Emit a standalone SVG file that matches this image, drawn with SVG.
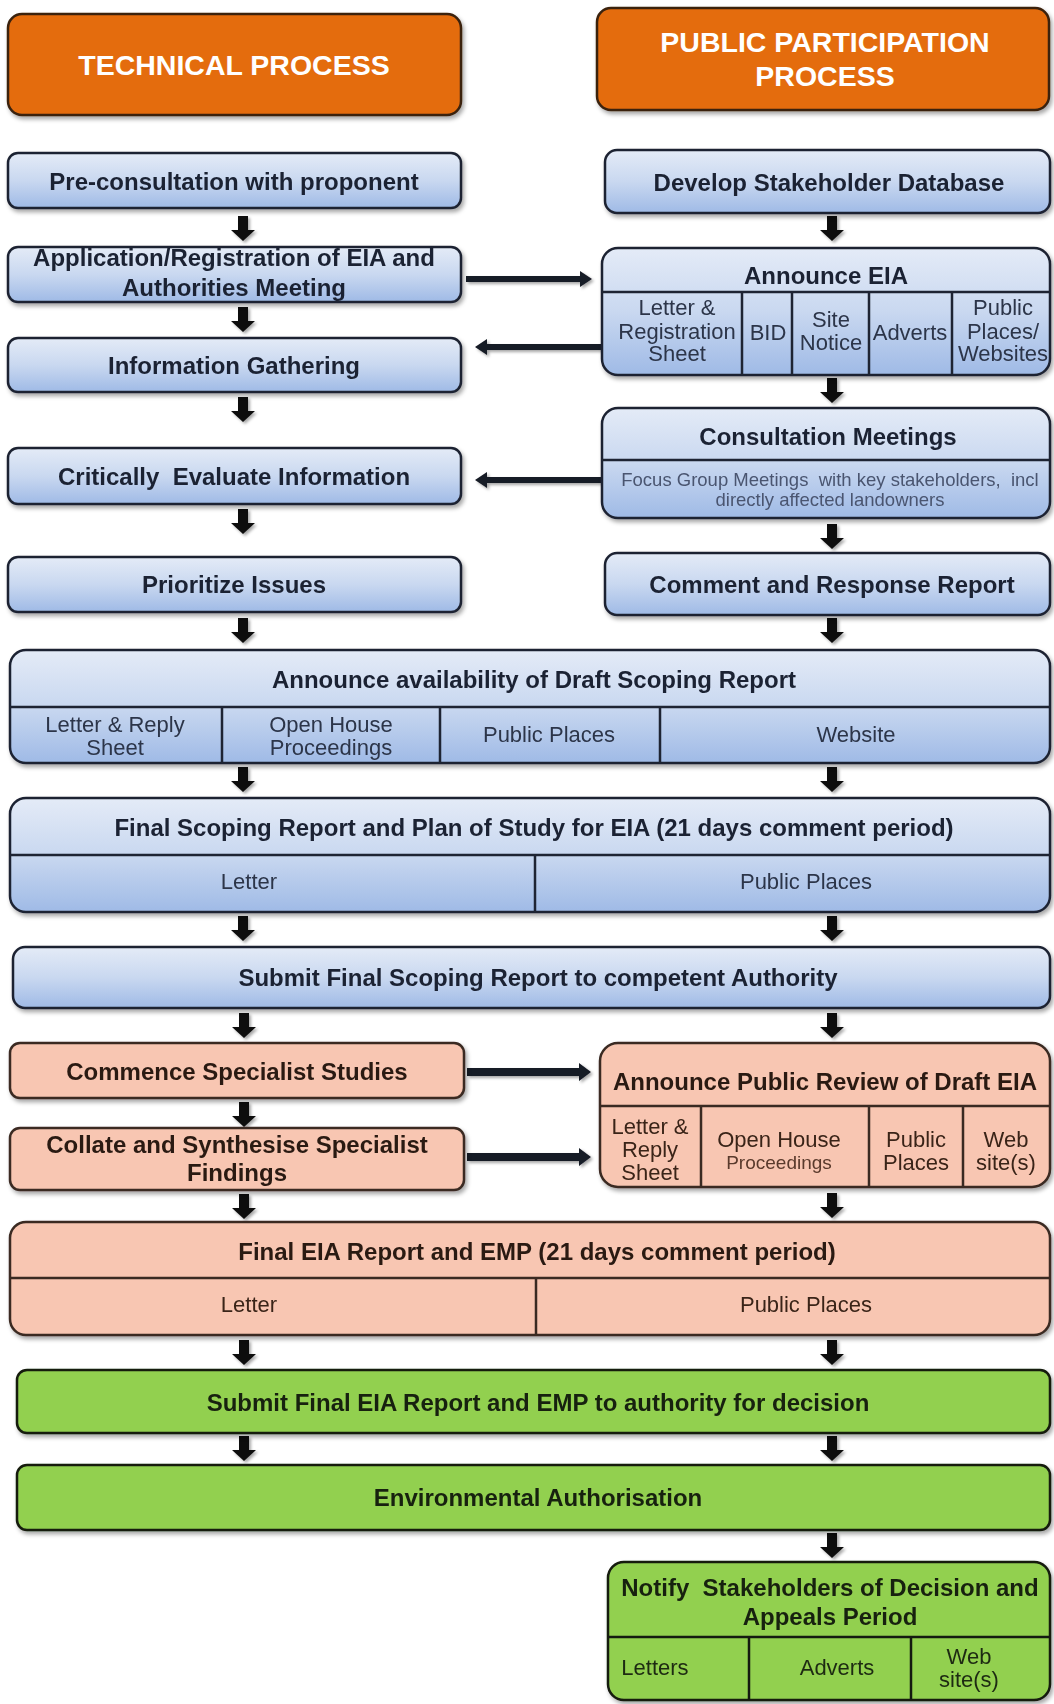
<svg xmlns="http://www.w3.org/2000/svg" xmlns:xlink="http://www.w3.org/1999/xlink" width="1054" height="1704" viewBox="0 0 1054 1704">
<style>
.box{stroke:#1e2433;stroke-width:2.5;filter:url(#sh)}
.blue{fill:url(#gBlue)}
.sal{fill:#F8C6B2;stroke:#3a2a22}
.grn{fill:#92D050;stroke:#141a10}
.org{fill:#E46C0A;stroke:#3a2210}
.div{stroke:#1e2433;stroke-width:2.5;fill:none}
.divs{stroke:#3a2a22;stroke-width:2.5;fill:none}
.divg{stroke:#141a10;stroke-width:2.5;fill:none}
text{font-family:"Liberation Sans",Arial,sans-serif;text-anchor:middle}
.h{font-size:28.5px;font-weight:bold;fill:#ffffff}
.t{font-size:24px;font-weight:bold;fill:#1b2233}
.ts{font-size:24px;font-weight:bold;fill:#2a1a12}
.tg{font-size:24px;font-weight:bold;fill:#17210f}
.c{font-size:22px;fill:#2c3549}
.cs{font-size:22px;fill:#3a2418}
.cg{font-size:22px;fill:#1d2a12}
.f{font-size:18.5px;fill:#4a5570}
.p{font-size:19px;fill:#5a3a2c}
.arr{fill:#111111;filter:url(#ash)}
.ha{fill:#151a26;filter:url(#ash)}
</style>
<defs>
<linearGradient id="gBlue" x1="0" y1="0" x2="0" y2="1">
<stop offset="0" stop-color="#e4ebf7"/>
<stop offset="0.5" stop-color="#c9d8f0"/>
<stop offset="1" stop-color="#9fbae6"/>
</linearGradient>
<filter id="sh" x="-5%" y="-10%" width="115%" height="140%">
<feDropShadow dx="2" dy="3" stdDeviation="2" flood-color="#000" flood-opacity="0.35"/>
</filter>
<filter id="ash" x="-50%" y="-50%" width="200%" height="200%">
<feDropShadow dx="2" dy="2" stdDeviation="1.5" flood-color="#000" flood-opacity="0.35"/>
</filter>
<path id="dn" d="M-5,0 H5 V14 H12 L0,25 L-12,14 H-5 Z"/>
</defs>
<rect width="1054" height="1704" fill="#ffffff"/>

<g id="connectors">
<g class="arr">
<use xlink:href="#dn" x="243" y="216"/>
<use xlink:href="#dn" x="243" y="307"/>
<use xlink:href="#dn" x="243" y="397"/>
<use xlink:href="#dn" x="243" y="509"/>
<use xlink:href="#dn" x="243" y="618"/>
<use xlink:href="#dn" x="243" y="767"/>
<use xlink:href="#dn" x="243" y="916"/>
<use xlink:href="#dn" x="244" y="1013"/>
<use xlink:href="#dn" x="244" y="1102"/>
<use xlink:href="#dn" x="244" y="1194"/>
<use xlink:href="#dn" x="244" y="1340"/>
<use xlink:href="#dn" x="244" y="1436"/>
<use xlink:href="#dn" x="832" y="216"/>
<use xlink:href="#dn" x="832" y="378"/>
<use xlink:href="#dn" x="832" y="524"/>
<use xlink:href="#dn" x="832" y="618"/>
<use xlink:href="#dn" x="832" y="767"/>
<use xlink:href="#dn" x="832" y="916"/>
<use xlink:href="#dn" x="832" y="1013"/>
<use xlink:href="#dn" x="832" y="1193"/>
<use xlink:href="#dn" x="832" y="1340"/>
<use xlink:href="#dn" x="832" y="1436"/>
<use xlink:href="#dn" x="832" y="1533"/>
</g>
<g class="ha">
<path d="M466,276 H580 V271 L592,279 L580,287 V282 H466 Z"/>
<path d="M602,344 H487 V339 L475,347 L487,355 V350 H602 Z"/>
<path d="M602,477 H487 V472 L475,480 L487,488 V483 H602 Z"/>
<path d="M467,1068 H579 V1063 L591,1072 L579,1081 V1076 H467 Z"/>
<path d="M467,1153 H579 V1148 L591,1157 L579,1166 V1161 H467 Z"/>
</g>
</g>

<g id="hdr-tech">
<rect class="box org" x="8" y="14" width="453" height="101" rx="14"/>
<text class="h" x="234" y="75">TECHNICAL PROCESS</text>
</g>
<g id="hdr-public">
<rect class="box org" x="597" y="8" width="452" height="102" rx="14"/>
<text class="h" x="825" y="52">PUBLIC PARTICIPATION</text>
<text class="h" x="825" y="86">PROCESS</text>
</g>

<g id="pre-consultation">
<rect class="box blue" x="8" y="153" width="453" height="55" rx="10"/>
<text class="t" x="234" y="190">Pre-consultation with proponent</text>
</g>
<g id="application">
<rect class="box blue" x="8" y="247" width="453" height="55" rx="10"/>
<text class="t" x="234" y="266">Application/Registration of EIA and</text>
<text class="t" x="234" y="296">Authorities Meeting</text>
</g>
<g id="information-gathering">
<rect class="box blue" x="8" y="338" width="453" height="54" rx="10"/>
<text class="t" x="234" y="374">Information Gathering</text>
</g>
<g id="critically-evaluate">
<rect class="box blue" x="8" y="448" width="453" height="56" rx="10"/>
<text class="t" x="234" y="485" xml:space="preserve">Critically  Evaluate Information</text>
</g>
<g id="prioritize">
<rect class="box blue" x="8" y="557" width="453" height="55" rx="10"/>
<text class="t" x="234" y="593">Prioritize Issues</text>
</g>

<g id="develop-database">
<rect class="box blue" x="605" y="150" width="445" height="63" rx="12"/>
<text class="t" x="829" y="191">Develop Stakeholder Database</text>
</g>
<g id="announce-eia">
<rect class="box blue" x="602" y="248" width="448" height="127" rx="16"/>
<text class="t" x="826" y="284">Announce EIA</text>
<path class="div" d="M602,292 H1050 M742,292 V375 M792,292 V375 M869,292 V375 M952,292 V375"/>
<text class="c" x="677" y="315">Letter &amp;</text>
<text class="c" x="677" y="339">Registration</text>
<text class="c" x="677" y="361">Sheet</text>
<text class="c" x="768" y="340">BID</text>
<text class="c" x="831" y="327">Site</text>
<text class="c" x="831" y="350">Notice</text>
<text class="c" x="910" y="340">Adverts</text>
<text class="c" x="1003" y="315">Public</text>
<text class="c" x="1003" y="339">Places/</text>
<text class="c" x="1003" y="361">Websites</text>
</g>
<g id="consultation-meetings">
<rect class="box blue" x="602" y="408" width="448" height="110" rx="16"/>
<text class="t" x="828" y="445">Consultation Meetings</text>
<path class="div" d="M602,460 H1050"/>
<text class="f" x="830" y="486" xml:space="preserve">Focus Group Meetings  with key stakeholders,  incl</text>
<text class="f" x="830" y="506">directly affected landowners</text>
</g>
<g id="comment-response">
<rect class="box blue" x="605" y="553" width="445" height="62" rx="12"/>
<text class="t" x="832" y="593">Comment and Response Report</text>
</g>

<g id="announce-draft-scoping">
<rect class="box blue" x="10" y="650" width="1040" height="113" rx="16"/>
<text class="t" x="534" y="688">Announce availability of Draft Scoping Report</text>
<path class="div" d="M10,707 H1050 M222,707 V763 M440,707 V763 M660,707 V763"/>
<text class="c" x="115" y="732">Letter &amp; Reply</text>
<text class="c" x="115" y="755">Sheet</text>
<text class="c" x="331" y="732">Open House</text>
<text class="c" x="331" y="755">Proceedings</text>
<text class="c" x="549" y="742">Public Places</text>
<text class="c" x="856" y="742">Website</text>
</g>
<g id="final-scoping">
<rect class="box blue" x="10" y="798" width="1040" height="114" rx="16"/>
<text class="t" x="534" y="836">Final Scoping Report and Plan of Study for EIA (21 days comment period)</text>
<path class="div" d="M10,855 H1050 M535,855 V912"/>
<text class="c" x="249" y="889">Letter</text>
<text class="c" x="806" y="889">Public Places</text>
</g>
<g id="submit-scoping">
<rect class="box blue" x="13" y="947" width="1037" height="61" rx="12"/>
<text class="t" x="538" y="986">Submit Final Scoping Report to competent Authority</text>
</g>

<g id="commence-studies">
<rect class="box sal" x="10" y="1043" width="454" height="55" rx="10"/>
<text class="ts" x="237" y="1080">Commence Specialist Studies</text>
</g>
<g id="collate-findings">
<rect class="box sal" x="10" y="1128" width="454" height="62" rx="10"/>
<text class="ts" x="237" y="1153">Collate and Synthesise Specialist</text>
<text class="ts" x="237" y="1181">Findings</text>
</g>
<g id="announce-review">
<rect class="box sal" x="600" y="1043" width="450" height="144" rx="18"/>
<text class="ts" x="825" y="1090">Announce Public Review of Draft EIA</text>
<path class="divs" d="M600,1106 H1050 M701,1106 V1187 M869,1106 V1187 M963,1106 V1187"/>
<text class="cs" x="650" y="1134">Letter &amp;</text>
<text class="cs" x="650" y="1157">Reply</text>
<text class="cs" x="650" y="1180">Sheet</text>
<text class="cs" x="779" y="1147">Open House</text>
<text class="p" x="779" y="1169">Proceedings</text>
<text class="cs" x="916" y="1147">Public</text>
<text class="cs" x="916" y="1170">Places</text>
<text class="cs" x="1006" y="1147">Web</text>
<text class="cs" x="1006" y="1170">site(s)</text>
</g>
<g id="final-eia">
<rect class="box sal" x="10" y="1222" width="1040" height="113" rx="16"/>
<text class="ts" x="537" y="1260">Final EIA Report and EMP (21 days comment period)</text>
<path class="divs" d="M10,1278 H1050 M536,1278 V1335"/>
<text class="cs" x="249" y="1312">Letter</text>
<text class="cs" x="806" y="1312">Public Places</text>
</g>

<g id="submit-eia">
<rect class="box grn" x="17" y="1370" width="1033" height="63" rx="10"/>
<text class="tg" x="538" y="1411">Submit Final EIA Report and EMP to authority for decision</text>
</g>
<g id="environmental-authorisation">
<rect class="box grn" x="17" y="1465" width="1033" height="65" rx="10"/>
<text class="tg" x="538" y="1506">Environmental Authorisation</text>
</g>
<g id="notify-stakeholders">
<rect class="box grn" x="608" y="1562" width="442" height="138" rx="16"/>
<text class="tg" x="830" y="1596" xml:space="preserve">Notify  Stakeholders of Decision and</text>
<text class="tg" x="830" y="1625">Appeals Period</text>
<path class="divg" d="M608,1637 H1050 M749,1637 V1700 M911,1637 V1700"/>
<text class="cg" x="655" y="1675">Letters</text>
<text class="cg" x="837" y="1675">Adverts</text>
<text class="cg" x="969" y="1664">Web</text>
<text class="cg" x="969" y="1687">site(s)</text>
</g>
</svg>
